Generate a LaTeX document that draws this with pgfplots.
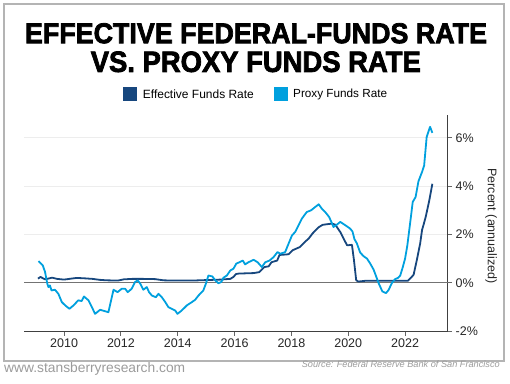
\documentclass[border=0pt]{standalone}
\usepackage{fontspec}
\setmainfont{Liberation Sans}
\newfontfamily\titlefont{Liberation Sans}[BoldFeatures={FakeBold=2.6}]
\usepackage{pgfplots}
\pgfplotsset{compat=1.18}
\definecolor{effc}{RGB}{23,71,126}
\definecolor{proxc}{RGB}{0,160,222}
\definecolor{bordc}{RGB}{180,180,180}
\definecolor{footc}{RGB}{155,155,155}
\begin{document}
\begin{tikzpicture}[x=1pt,y=1pt]
\path[use as bounding box] (0,0) rectangle (510,383);
\draw[bordc, line width=1.3pt] (4,22) rectangle (504,379);
% title
\node[inner sep=0, anchor=center] at (256,349.7) {\resizebox{462pt}{20pt}{\titlefont\bfseries EFFECTIVE FEDERAL-FUNDS RATE}};
\node[inner sep=0, anchor=center] at (255.8,321.2) {\resizebox{330pt}{20.5pt}{\titlefont\bfseries VS. PROXY FUNDS RATE}};
% legend
\fill[effc] (123.3,282.3) rectangle (137,295.7);
\node[inner sep=0, anchor=west] at (142.7,289) {\resizebox{111pt}{!}{\fontsize{13}{15}\selectfont Effective Funds Rate}};
\fill[proxc] (274,282.3) rectangle (287.7,295.7);
\node[inner sep=0, anchor=west] at (293,289) {\resizebox{94pt}{!}{\fontsize{13}{15}\selectfont Proxy Funds Rate}};
\begin{axis}[
  at={(24pt,52pt)}, anchor=south west,
  scale only axis, width=423.7pt, height=216pt,
  xmin=2008.59, xmax=2023.5, ymin=-2, ymax=6.95,
  axis x line=bottom, axis y line=right,
  axis line style={-, draw=black!75, line width=0.9pt},
  xtick={2010,2012,2014,2016,2018,2020,2022},
  xticklabels={2010,2012,2014,2016,2018,2020,2022},
  ytick={-2,0,2,4,6},
  yticklabels={-2\%,0\%,2\%,4\%,6\%},
  tick align=outside, major tick length=4.5pt,
  tick style={draw=black!60, line width=0.9pt},
  tick label style={font=\fontsize{12.5}{14}\selectfont, text=black!85},
  /pgf/number format/assume math mode=true,
  ymajorgrids, grid style={draw=black!7, line width=0.9pt},
  extra y ticks={0}, extra y tick labels={},
  extra y tick style={grid style={draw=black!55, line width=1.1pt}, major tick length=0pt},
  clip=false,
]
\addplot[effc, line width=1.8pt, line join=round] coordinates {
(2009.08,0.17) (2009.17,0.24) (2009.33,0.14) (2009.58,0.21) (2009.75,0.16)
(2010.0,0.13) (2010.25,0.17) (2010.45,0.20) (2010.75,0.18) (2011.0,0.16)
(2011.25,0.12) (2011.5,0.10) (2011.9,0.09) (2012.1,0.14) (2012.4,0.16)
(2012.75,0.16) (2013.2,0.15) (2013.5,0.10) (2013.8,0.09) (2014.5,0.09)
(2015.0,0.11) (2015.5,0.13) (2015.85,0.16) (2015.96,0.24) (2016.05,0.36)
(2016.15,0.38) (2016.67,0.40) (2016.87,0.44) (2016.96,0.55) (2017.05,0.65)
(2017.2,0.68) (2017.3,0.85) (2017.5,0.92) (2017.58,1.15) (2017.9,1.18)
(2018.05,1.35) (2018.3,1.48) (2018.5,1.72) (2018.6,1.82) (2018.75,2.05)
(2018.96,2.30) (2019.1,2.40) (2019.42,2.45) (2019.54,2.41) (2019.60,2.31)
(2019.72,2.10) (2019.84,1.82) (2019.96,1.55) (2020.13,1.57) (2020.2,0.95)
(2020.28,0.10) (2020.36,0.05) (2020.6,0.08) (2021.0,0.08) (2021.5,0.08)
(2022.1,0.08) (2022.2,0.20) (2022.3,0.33) (2022.35,0.6) (2022.41,0.92)
(2022.53,1.62) (2022.6,2.2) (2022.65,2.4) (2022.73,2.75) (2022.85,3.4)
(2022.96,4.1)
};
\addplot[proxc, line width=1.8pt, line join=round] coordinates {
(2009.10,0.90) (2009.25,0.72) (2009.33,0.45) (2009.41,-0.04) (2009.45,-0.18)
(2009.50,-0.11) (2009.56,-0.32) (2009.68,-0.29) (2009.80,-0.46) (2009.92,-0.80)
(2010.04,-0.94) (2010.19,-1.08) (2010.33,-0.94) (2010.50,-0.73) (2010.62,-0.76)
(2010.70,-0.57) (2010.86,-0.73) (2010.98,-1.01) (2011.09,-1.29) (2011.27,-1.12)
(2011.44,-1.18) (2011.56,-1.22) (2011.74,-0.29) (2011.88,-0.39) (2012.03,-0.25)
(2012.15,-0.25) (2012.24,-0.39) (2012.38,-0.25) (2012.50,0.03) (2012.59,0.10)
(2012.68,-0.04) (2012.79,-0.29) (2012.91,-0.18) (2012.99,-0.39) (2013.09,-0.53)
(2013.23,-0.60) (2013.32,-0.46) (2013.44,-0.60) (2013.56,-0.80) (2013.67,-1.01)
(2013.79,-1.08) (2013.91,-1.15) (2013.99,-1.29) (2014.14,-1.15) (2014.32,-0.94)
(2014.50,-0.80) (2014.61,-0.71) (2014.73,-0.53) (2014.90,-0.32) (2014.99,-0.04)
(2015.08,0.30) (2015.22,0.26) (2015.32,0.10) (2015.43,-0.02) (2015.53,0.03)
(2015.61,0.21) (2015.73,0.30) (2015.85,0.51) (2015.96,0.58) (2016.06,0.79)
(2016.17,0.85) (2016.29,0.92) (2016.37,0.76) (2016.49,0.85) (2016.67,0.95)
(2016.81,0.85) (2016.96,0.65) (2017.08,0.85) (2017.23,0.92) (2017.37,1.06)
(2017.51,1.27) (2017.61,1.20) (2017.78,1.27) (2017.90,1.62) (2018.02,1.96)
(2018.13,2.10) (2018.25,2.38) (2018.37,2.66) (2018.54,2.93) (2018.69,3.00)
(2018.84,3.14) (2018.96,3.25) (2019.07,3.07) (2019.19,2.93) (2019.33,2.72)
(2019.43,2.45) (2019.48,2.31) (2019.57,2.38) (2019.72,2.52) (2019.90,2.38)
(2020.07,2.24) (2020.15,2.12) (2020.22,1.80) (2020.30,1.64) (2020.42,1.25)
(2020.54,1.10) (2020.66,1.00) (2020.77,0.80) (2020.89,0.55) (2020.97,0.30)
(2021.07,-0.02) (2021.20,-0.36) (2021.33,-0.43) (2021.42,-0.30) (2021.54,0.00)
(2021.65,0.15) (2021.75,0.20) (2021.83,0.30) (2021.92,0.65) (2022.00,1.00)
(2022.08,1.55) (2022.17,2.40) (2022.27,3.35) (2022.37,3.55) (2022.47,4.20)
(2022.60,4.60) (2022.67,4.85) (2022.76,6.04) (2022.88,6.46) (2022.96,6.21)
};
\end{axis}
\node[rotate=-90, inner sep=0, font=\fontsize{12.5}{14}\selectfont, text=black!85] at (491,157) {Percent (annualized)};
% footer
\node[inner sep=0, anchor=base west] at (4,11) {\resizebox{181pt}{!}{\fontsize{13}{15}\selectfont\color{footc}www.stansberryresearch.com}};
\node[inner sep=0, anchor=base east] at (500,16) {\resizebox{198pt}{!}{\fontsize{11}{13}\selectfont\itshape\color{footc}Source: Federal Reserve Bank of San Francisco}};
\end{tikzpicture}
\end{document}
